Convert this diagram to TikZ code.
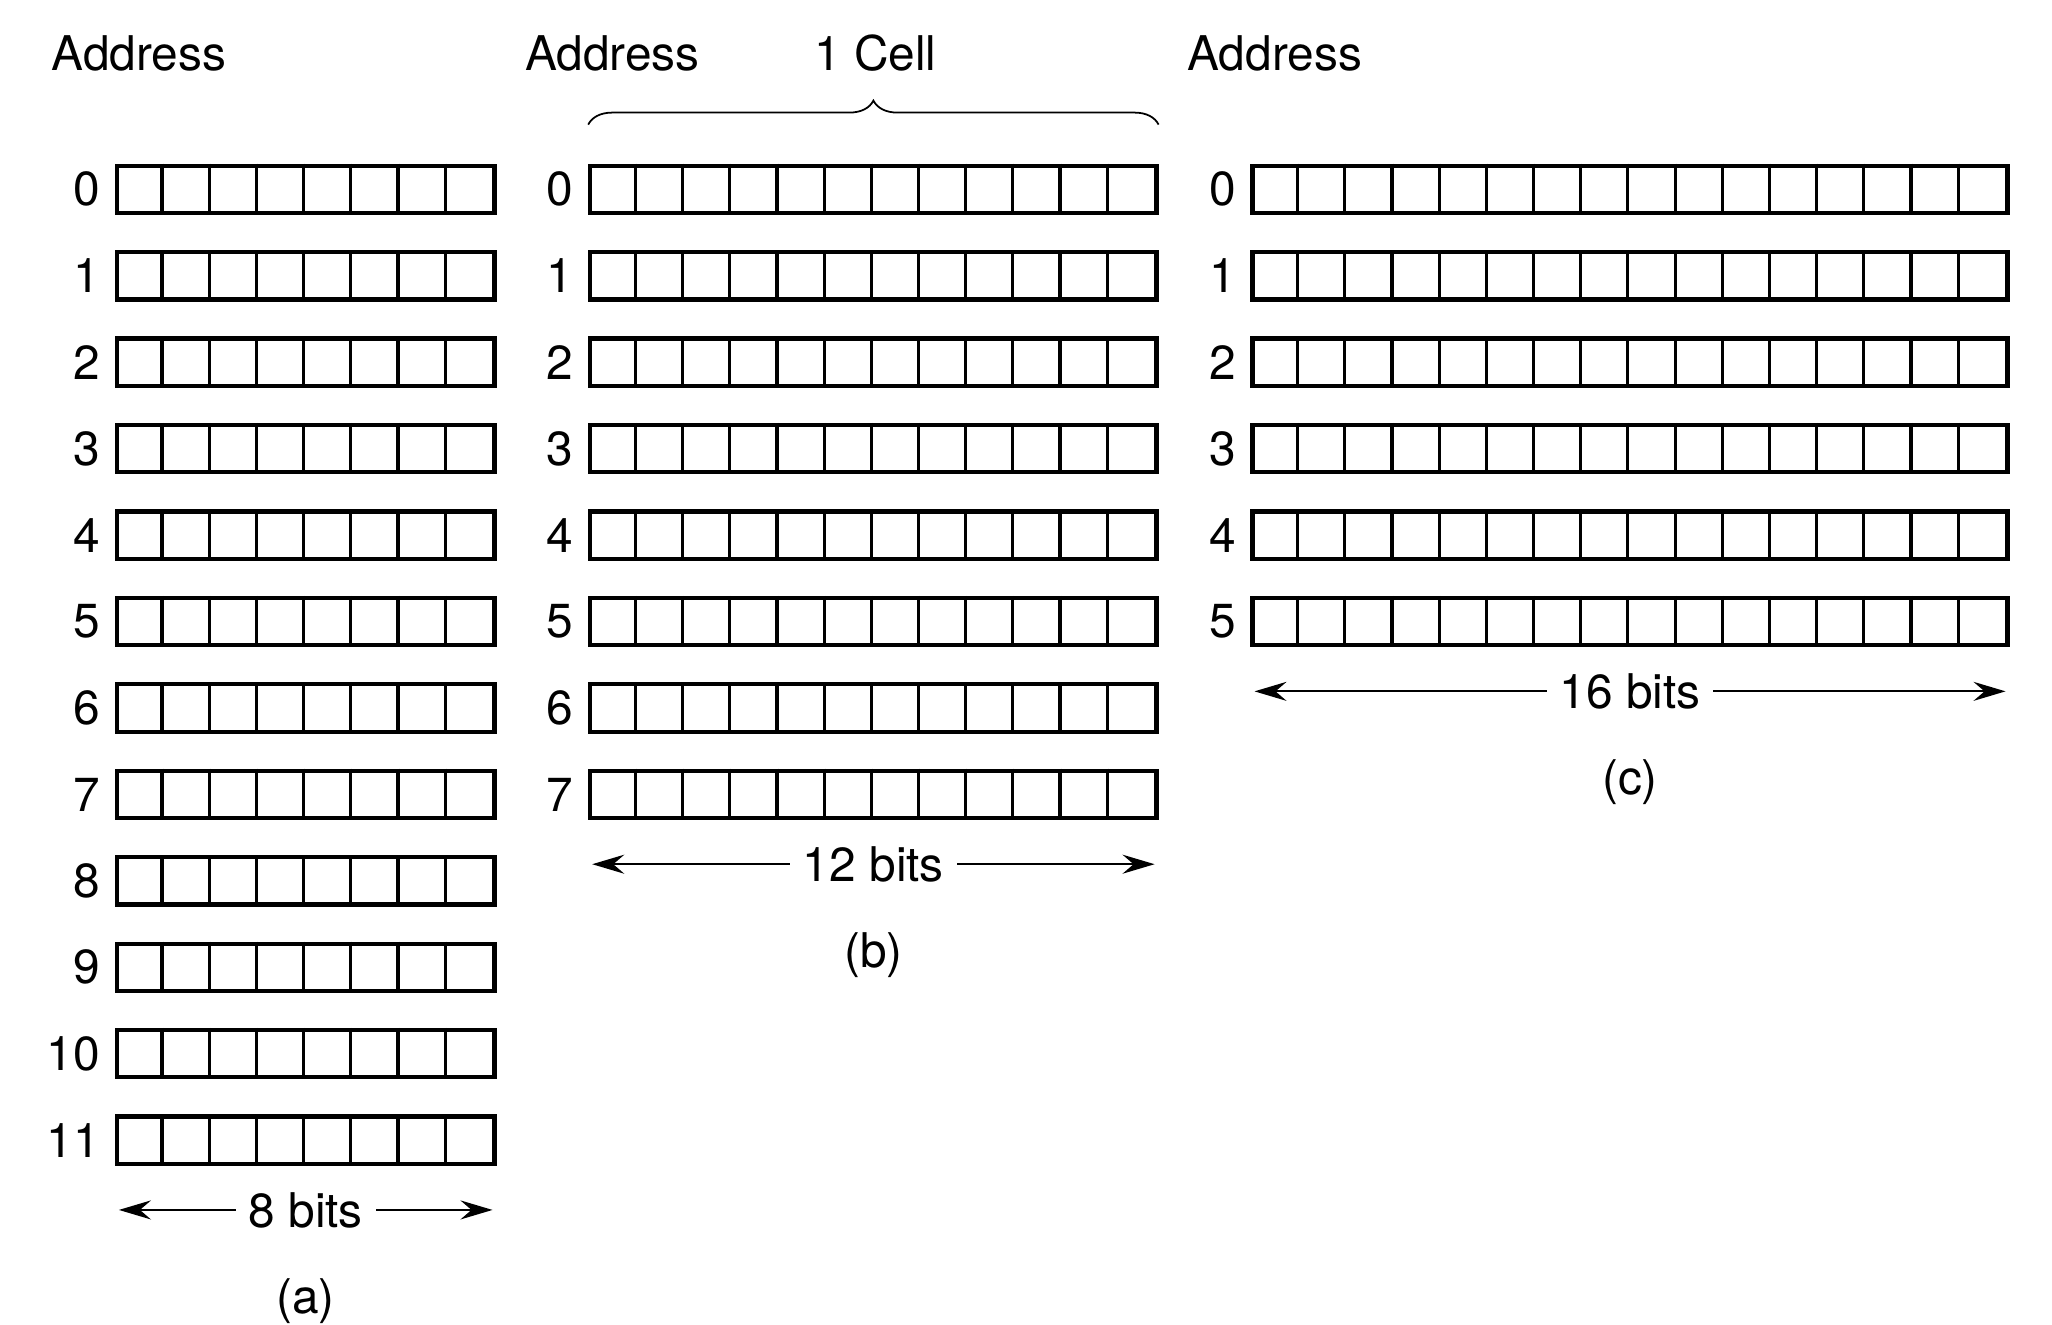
\documentclass[tikz,border=0pt]{standalone}
\usepackage{fontspec}
\setmainfont{TeX Gyre Heros}
\usetikzlibrary{positioning,arrows.meta,decorations.pathreplacing}
\begin{document}
\begin{tikzpicture}[x=0.01cm,y=-0.01cm,
  every node/.style={font=\fontsize{13.6pt}{16pt}\selectfont},
  word/.style={draw,line width=1.2pt,minimum height=0.473cm,inner sep=0pt},
  divider/.style={line width=0.9pt},
  addr/.style={inner sep=2pt},
  arrow/.style={line width=0.6pt,{Stealth[length=3.2mm,width=1.9mm,inset=1.1mm]}-{Stealth[length=3.2mm,width=1.9mm,inset=1.1mm]}},
  bits/.style={fill=white,inner sep=0.13cm},
  brace/.style={decorate,decoration={brace,amplitude=0.24cm},line width=0.5pt},
  node distance=0.07cm]
  \useasboundingbox (0,0) rectangle (2052,1325);

  % (a) twelve cells of 8 bits
  \foreach \i in {0,...,11} {
    \node[word,minimum width=3.772cm] (a\i) at (305.7,{189.4+86.43*\i}) {};
    \node[addr,left=of a\i] (na\i) {\i};
    \foreach \k in {1,...,7}
      \draw[divider] ([xshift=\k*0.4715cm]a\i.north west) -- ([xshift=\k*0.4715cm]a\i.south west);
  }

  % (b) eight cells of 12 bits
  \foreach \i in {0,...,7} {
    \node[word,minimum width=5.658cm] (b\i) at (873.4,{189.4+86.43*\i}) {};
    \node[addr,left=of b\i] (nb\i) {\i};
    \foreach \k in {1,...,11}
      \draw[divider] ([xshift=\k*0.4715cm]b\i.north west) -- ([xshift=\k*0.4715cm]b\i.south west);
  }

  % (c) six cells of 16 bits
  \foreach \i in {0,...,5} {
    \node[word,minimum width=7.544cm] (c\i) at (1630,{189.4+86.43*\i}) {};
    \node[addr,left=of c\i] (nc\i) {\i};
    \foreach \k in {1,...,15}
      \draw[divider] ([xshift=\k*0.4715cm]c\i.north west) -- ([xshift=\k*0.4715cm]c\i.south west);
  }

  % headings
  \node[anchor=west] (addra) at ([xshift=-0.754cm,yshift=1.10cm]a0.north west) {Address};
  \node[anchor=west] (addrb) at ([xshift=-0.754cm,yshift=1.10cm]b0.north west) {Address};
  \node[anchor=west] (addrc) at ([xshift=-0.754cm,yshift=1.10cm]c0.north west) {Address};
  \node (cell) at ([xshift=0.02cm,yshift=1.10cm]b0.north) {1 Cell};
  \draw[brace] ([yshift=0.39cm]b0.north west) -- ([yshift=0.39cm]b0.north east);

  % widths
  \coordinate (al) at ([xshift=0.04cm,yshift=-0.44cm]a11.south west);
  \coordinate (ar) at ([xshift=-0.04cm,yshift=-0.44cm]a11.south east);
  \coordinate (bl) at ([xshift=0.04cm,yshift=-0.44cm]b7.south west);
  \coordinate (br) at ([xshift=-0.04cm,yshift=-0.44cm]b7.south east);
  \coordinate (cl) at ([xshift=0.04cm,yshift=-0.44cm]c5.south west);
  \coordinate (cr) at ([xshift=-0.04cm,yshift=-0.44cm]c5.south east);
  \draw[arrow] (al) -- node[bits] (bitsa) {8 bits} (ar);
  \draw[arrow] (bl) -- node[bits] (bitsb) {12 bits} (br);
  \draw[arrow] (cl) -- node[bits] (bitsc) {16 bits} (cr);

  % captions
  \node (capa) at ([yshift=-1.35cm]a11.south) {(a)};
  \node (capb) at ([yshift=-1.35cm]b7.south) {(b)};
  \node (capc) at ([yshift=-1.35cm]c5.south) {(c)};
\end{tikzpicture}
\end{document}
